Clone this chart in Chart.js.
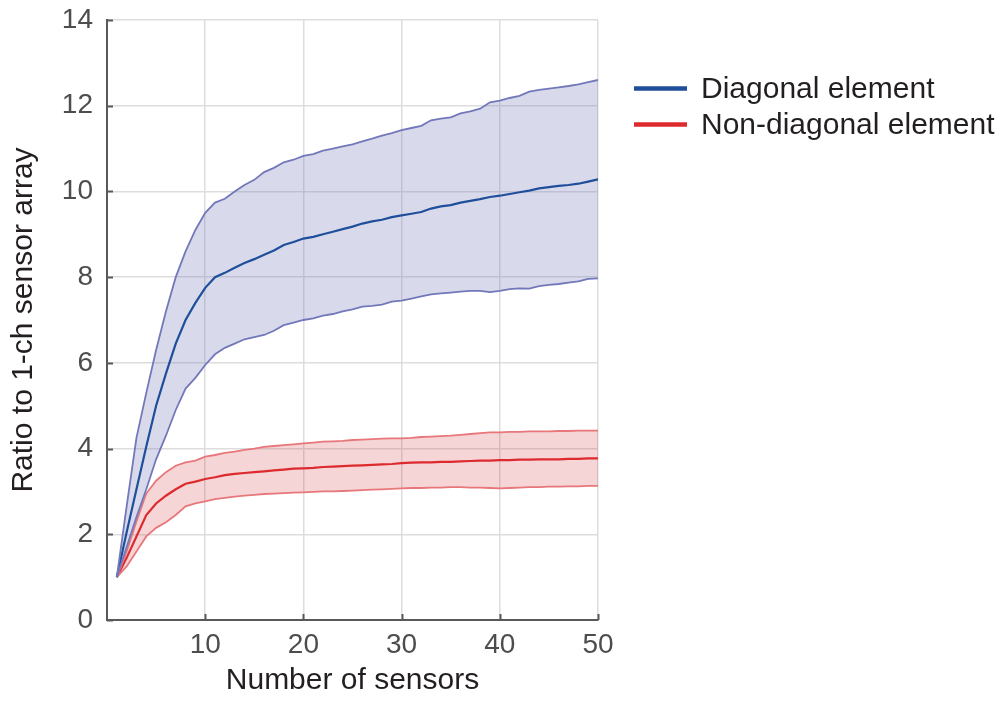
<!DOCTYPE html>
<html>
<head>
<meta charset="utf-8">
<script src="https://cdn.jsdelivr.net/npm/chart.js@4.4.1/dist/chart.umd.min.js"></script>
<style>
  body { margin: 0; background: #fff; }
  canvas { display: block; }
</style>
</head>
<body>
<canvas id="myChart" width="1000" height="702"></canvas>
<script>
const sensors = [1, 2, 3, 4, 5, 6, 7, 8, 9, 10, 11, 12, 13, 14, 15, 16, 17, 18, 19, 20,
  21, 22, 23, 24, 25, 26, 27, 28, 29, 30, 31, 32, 33, 34, 35, 36, 37, 38, 39, 40,
  41, 42, 43, 44, 45, 46, 47, 48, 49, 50];

const diagMean = [1.0, 2.05, 3.05, 4.05, 5.0, 5.75, 6.45, 7.0, 7.4, 7.75,
  8.0, 8.1, 8.22, 8.33, 8.42, 8.52, 8.62, 8.75, 8.82, 8.9,
  8.94, 9.0, 9.06, 9.12, 9.18, 9.25, 9.3, 9.34, 9.4, 9.44,
  9.48, 9.52, 9.6, 9.65, 9.68, 9.74, 9.78, 9.82, 9.87, 9.9,
  9.94, 9.98, 10.02, 10.07, 10.1, 10.13, 10.15, 10.18, 10.23, 10.28];
const diagUpper = [1.0, 2.65, 4.25, 5.3, 6.3, 7.2, 8.0, 8.6, 9.1, 9.5,
  9.74, 9.83, 10.0, 10.15, 10.27, 10.45, 10.55, 10.68, 10.74, 10.83,
  10.87, 10.95, 11.0, 11.05, 11.1, 11.17, 11.23, 11.3, 11.36, 11.43,
  11.48, 11.53, 11.66, 11.7, 11.73, 11.82, 11.87, 11.93, 12.08, 12.12,
  12.18, 12.23, 12.33, 12.37, 12.4, 12.43, 12.46, 12.5, 12.55, 12.6];
const diagLower = [1.0, 1.7, 2.4, 3.05, 3.75, 4.3, 4.9, 5.4, 5.65, 5.95,
  6.2, 6.35, 6.45, 6.55, 6.6, 6.65, 6.75, 6.88, 6.94, 7.0,
  7.04, 7.1, 7.14, 7.2, 7.25, 7.31, 7.33, 7.36, 7.43, 7.45,
  7.5, 7.55, 7.6, 7.62, 7.64, 7.66, 7.68, 7.68, 7.65, 7.68,
  7.72, 7.74, 7.73, 7.79, 7.82, 7.84, 7.87, 7.9, 7.96, 7.97];

const offMean = [1.0, 1.45, 1.95, 2.45, 2.72, 2.9, 3.05, 3.18, 3.23, 3.29,
  3.33, 3.38, 3.41, 3.43, 3.45, 3.47, 3.49, 3.51, 3.53, 3.54,
  3.55, 3.57, 3.58, 3.59, 3.6, 3.61, 3.62, 3.63, 3.64, 3.66,
  3.67, 3.68, 3.68, 3.69, 3.69, 3.7, 3.71, 3.72, 3.72, 3.73,
  3.73, 3.74, 3.74, 3.75, 3.75, 3.75, 3.76, 3.76, 3.77, 3.77];
const offUpper = [1.0, 1.6, 2.3, 2.95, 3.25, 3.45, 3.6, 3.68, 3.72, 3.81,
  3.85, 3.9, 3.93, 3.97, 4.0, 4.04, 4.06, 4.08, 4.1, 4.12,
  4.14, 4.16, 4.17, 4.18, 4.2, 4.21, 4.22, 4.23, 4.24, 4.24,
  4.25, 4.27, 4.28, 4.29, 4.3, 4.32, 4.34, 4.36, 4.38, 4.38,
  4.39, 4.39, 4.4, 4.4, 4.4, 4.41, 4.41, 4.42, 4.42, 4.42];
const offLower = [1.0, 1.25, 1.6, 1.95, 2.15, 2.28, 2.45, 2.65, 2.72, 2.77,
  2.82, 2.85, 2.88, 2.9, 2.92, 2.94, 2.95, 2.96, 2.97, 2.98,
  2.99, 3.0, 3.0, 3.01, 3.02, 3.03, 3.04, 3.05, 3.06, 3.07,
  3.08, 3.08, 3.09, 3.09, 3.1, 3.1, 3.09, 3.09, 3.08, 3.07,
  3.08, 3.09, 3.1, 3.1, 3.11, 3.11, 3.12, 3.12, 3.13, 3.13];

const xTicks = [10, 20, 30, 40, 50];
const legendLabels = ['Diagonal element', 'Non-diagonal element'];

const pts = (arr) => arr.map((v, i) => ({ x: sensors[i], y: v }));

const axisColor = '#58595b';
const textColor = '#231f20';
const tickColor = '#4d4d4d';
const font = 'Liberation Sans, Arial, Helvetica, sans-serif';

// short inward tick marks + right-side legend
const extras = {
  id: 'extras',
  afterDraw(chart) {
    const ctx = chart.ctx;
    const xs = chart.scales.x, ys = chart.scales.y;
    const area = chart.chartArea;
    ctx.save();
    ctx.strokeStyle = axisColor;
    ctx.lineWidth = 2;
    ctx.beginPath();
    xTicks.forEach(t => {
      const px = Math.round(xs.getPixelForValue(t)) + 0.5;
      ctx.moveTo(px, area.bottom);
      ctx.lineTo(px, area.bottom - 6);
    });
    ys.ticks.forEach(t => {
      const py = Math.round(ys.getPixelForValue(t.value)) + 0.5;
      ctx.moveTo(area.left, py);
      ctx.lineTo(area.left + 6, py);
    });
    ctx.stroke();

    const colors = [chart.data.datasets[2].borderColor, chart.data.datasets[5].borderColor];
    const rows = [88.5, 124.5];
    ctx.font = '30px ' + font;
    ctx.textBaseline = 'middle';
    ctx.fillStyle = textColor;
    legendLabels.forEach((lab, i) => {
      ctx.strokeStyle = colors[i];
      ctx.lineWidth = 4.5;
      ctx.beginPath();
      ctx.moveTo(634, rows[i]);
      ctx.lineTo(687, rows[i]);
      ctx.stroke();
      ctx.fillText(lab, 701, rows[i] + 1);
    });
    ctx.restore();
  }
};

const ctx = document.getElementById('myChart').getContext('2d');
const myChart = new Chart(ctx, {
  type: 'line',
  data: {
    datasets: [
      {
        label: 'diag upper',
        data: pts(diagUpper),
        borderColor: '#7278b9',
        borderWidth: 1.8,
        backgroundColor: 'rgba(110,118,180,0.27)',
        fill: '+1'
      },
      {
        label: 'diag lower',
        data: pts(diagLower),
        borderColor: '#7278b9',
        borderWidth: 1.8,
        fill: false
      },
      {
        label: legendLabels[0],
        data: pts(diagMean),
        borderColor: '#1f4e9a',
        borderWidth: 2.2,
        fill: false
      },
      {
        label: 'off upper',
        data: pts(offUpper),
        borderColor: '#e8777b',
        borderWidth: 1.8,
        backgroundColor: 'rgba(210,45,50,0.2)',
        fill: '+1'
      },
      {
        label: 'off lower',
        data: pts(offLower),
        borderColor: '#e8777b',
        borderWidth: 1.8,
        fill: false
      },
      {
        label: legendLabels[1],
        data: pts(offMean),
        borderColor: '#dc2a2e',
        borderWidth: 2.2,
        fill: false
      }
    ]
  },
  options: {
    responsive: false,
    animation: false,
    layout: {
      padding: { left: 0, right: 402, top: 20, bottom: 0 }
    },
    elements: {
      point: { radius: 0 },
      line: { tension: 0 }
    },
    plugins: {
      legend: { display: false },
      tooltip: { enabled: false },
      filler: { drawTime: 'beforeDatasetsDraw' }
    },
    scales: {
      x: {
        type: 'linear',
        min: 0,
        max: 50,
        afterFit: (s) => { s.height = 82; s.paddingLeft = 0; s.paddingRight = 0; },
        afterBuildTicks: (s) => { s.ticks = [0].concat(xTicks).map(v => ({ value: v })); },
        grid: { color: '#dddddd', lineWidth: 1.5, drawTicks: false },
        border: { color: axisColor, width: 2 },
        ticks: {
          padding: 8,
          color: tickColor,
          font: { family: font, size: 28 },
          callback: (v) => (v === 0 ? '' : v)
        },
        title: {
          display: true,
          text: 'Number of sensors',
          color: textColor,
          font: { family: font, size: 30 },
          padding: { top: 0, bottom: 3 }
        }
      },
      y: {
        min: 0,
        max: 14,
        afterFit: (s) => { s.width = 107; s.paddingTop = 0; s.paddingBottom = 0; },
        grid: { color: '#dddddd', lineWidth: 1.5, drawTicks: false },
        border: { color: axisColor, width: 2 },
        ticks: {
          stepSize: 2,
          padding: 14,
          color: tickColor,
          font: { family: font, size: 28 }
        },
        title: {
          display: true,
          text: 'Ratio to 1-ch sensor array',
          color: textColor,
          font: { family: font, size: 30 },
          padding: { top: 6, bottom: 0 }
        }
      }
    }
  },
  plugins: [extras]
});
</script>
</body>
</html>
